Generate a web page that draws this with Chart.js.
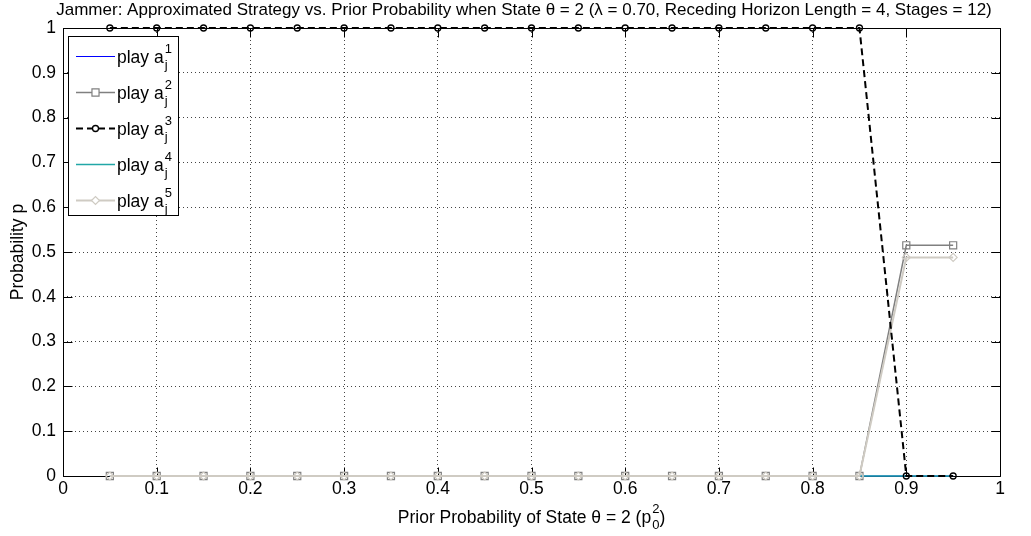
<!DOCTYPE html>
<html>
<head>
<meta charset="utf-8">
<title>Jammer strategy</title>
<script src="https://cdn.jsdelivr.net/npm/chart.js@4.4.1/dist/chart.umd.min.js"></script>
<style>
  html, body { margin: 0; padding: 0; background: #fff; }
  canvas { display: block; }
</style>
</head>
<body>
<canvas id="chart" width="1031" height="536"></canvas>
<script>
// prior probability of state theta = 2
const priorProb = [0.05, 0.1, 0.15, 0.2, 0.25, 0.3, 0.35, 0.4, 0.45, 0.5,
                   0.55, 0.6, 0.65, 0.7, 0.75, 0.8, 0.85, 0.9, 0.95];

// probability of playing each action
const playA1 = [0, 0, 0, 0, 0, 0, 0, 0, 0, 0, 0, 0, 0, 0, 0, 0, 0, 0, 0];
const playA2 = [0, 0, 0, 0, 0, 0, 0, 0, 0, 0, 0, 0, 0, 0, 0, 0, 0, 0.515, 0.515];
const playA3 = [1, 1, 1, 1, 1, 1, 1, 1, 1, 1, 1, 1, 1, 1, 1, 1, 1, 0, 0];
const playA4 = [0, 0, 0, 0, 0, 0, 0, 0, 0, 0, 0, 0, 0, 0, 0, 0, 0, 0, 0];
const playA5 = [0, 0, 0, 0, 0, 0, 0, 0, 0, 0, 0, 0, 0, 0, 0, 0, 0, 0.488, 0.488];

const xTicks = [0, 0.1, 0.2, 0.3, 0.4, 0.5, 0.6, 0.7, 0.8, 0.9, 1];
const yTicks = [0, 0.1, 0.2, 0.3, 0.4, 0.5, 0.6, 0.7, 0.8, 0.9, 1];

const FONT = '"Liberation Sans", Arial, sans-serif';
const FS = 17.5;

function pts(ys) {
    return ys.map((y, i) => ({ x: priorProb[i], y: y }));
}

// text like "play a" with a superscript and subscript stacked after it
function drawSupSub(ctx, x, y, base, sup, sub, size) {
    const small = Math.round(size * 0.74);
    ctx.font = size + 'px ' + FONT;
    const wBase = ctx.measureText(base).width;
    ctx.font = small + 'px ' + FONT;
    const wSmall = Math.max(ctx.measureText(sup).width, ctx.measureText(sub).width);
    ctx.textBaseline = 'middle';
    ctx.textAlign = 'left';
    ctx.font = size + 'px ' + FONT;
    ctx.fillText(base, x, y);
    ctx.font = small + 'px ' + FONT;
    ctx.fillText(sup, x + wBase + 1, y - size * 0.5);
    ctx.fillText(sub, x + wBase + 1, y + size * 0.45);
    return x + wBase + 1 + wSmall;
}

const matlabAxes = {
    id: 'matlabAxes',
    beforeDatasetsDraw(chart) {
        const ctx = chart.ctx;
        const a = chart.chartArea;
        const xs = chart.scales.x, ys = chart.scales.y;
        ctx.save();
        ctx.strokeStyle = '#000';
        ctx.lineWidth = 1;
        ctx.setLineDash([]);
        ctx.beginPath();
        const L = Math.round(a.left) + 0.5, R = Math.round(a.right) + 0.5;
        const T = Math.round(a.top) + 0.5, B = Math.round(a.bottom) + 0.5;
        ctx.rect(L, T, R - L, B - T);
        const tl = 9;
        xTicks.forEach(v => {
            const px = Math.round(xs.getPixelForValue(v)) + 0.5;
            ctx.moveTo(px, B); ctx.lineTo(px, B - tl);
            ctx.moveTo(px, T); ctx.lineTo(px, T + tl);
        });
        yTicks.forEach(v => {
            const py = Math.round(ys.getPixelForValue(v)) + 0.5;
            ctx.moveTo(L, py); ctx.lineTo(L + tl, py);
            ctx.moveTo(R, py); ctx.lineTo(R - tl, py);
        });
        ctx.stroke();
        ctx.restore();
    },
    afterDraw(chart) {
        const ctx = chart.ctx;
        const a = chart.chartArea;
        ctx.save();
        ctx.fillStyle = '#000';

        // title
        ctx.font = '17px ' + FONT;
        ctx.textAlign = 'center';
        ctx.textBaseline = 'middle';
        ctx.fillText('Jammer: Approximated Strategy vs. Prior Probability when State \u03b8 = 2 (\u03bb = 0.70, Receding Horizon Length = 4, Stages = 12)',
            524, 10);

        // x axis label
        const cx = (a.left + a.right) / 2;
        const head = 'Prior Probability of State \u03b8 = 2 (p';
        ctx.font = FS + 'px ' + FONT;
        const wHead = ctx.measureText(head).width;
        const wTail = ctx.measureText(')').width;
        ctx.font = Math.round(FS * 0.74) + 'px ' + FONT;
        const wSub = ctx.measureText('0').width;
        const total = wHead + 1 + wSub + wTail;
        const endX = drawSupSub(ctx, cx - total / 2, 518, head, '2', '0', FS);
        ctx.font = FS + 'px ' + FONT;
        ctx.fillText(')', endX, 518);

        // y axis label
        ctx.save();
        ctx.translate(18, (a.top + a.bottom) / 2);
        ctx.rotate(-Math.PI / 2);
        ctx.textAlign = 'center';
        ctx.textBaseline = 'middle';
        ctx.font = FS + 'px ' + FONT;
        ctx.fillText('Probability p', 0, 0);
        ctx.restore();

        // legend box
        const bx = 68.5, by = 36.5, bw = 110, bh = 179;
        ctx.fillStyle = '#fff';
        ctx.fillRect(bx, by, bw, bh);
        ctx.strokeStyle = '#000';
        ctx.lineWidth = 1;
        ctx.setLineDash([]);
        ctx.strokeRect(bx, by, bw, bh);
        chart.data.datasets.forEach((ds, i) => {
            const y = 56 + i * 36;
            const lx0 = 76, lx1 = 115, mx = (lx0 + lx1) / 2;
            ctx.save();
            ctx.strokeStyle = ds.borderColor;
            ctx.lineWidth = ds.borderWidth;
            ctx.setLineDash(ds.borderDash || []);
            ctx.beginPath();
            ctx.moveTo(lx0, y + 0.5);
            ctx.lineTo(lx1, y + 0.5);
            ctx.stroke();
            ctx.setLineDash([]);
            if (ds.pointRadius > 0) {
                ctx.fillStyle = '#fff';
                ctx.strokeStyle = ds.pointBorderColor || ds.borderColor;
                ctx.lineWidth = ds.pointBorderWidth || 1;
                Chart.helpers.drawPoint(ctx, {
                    pointStyle: ds.pointStyle,
                    radius: ds.pointRadius,
                    borderWidth: ds.pointBorderWidth || 1,
                    rotation: 0
                }, mx, y + 0.5);
            }
            ctx.restore();
            ctx.fillStyle = '#000';
            drawSupSub(ctx, 117, y + 2, 'play a', String(i + 1), 'j', FS);
        });
        ctx.restore();
    }
};

const dataSets = [
    {
        label: 'play a_j^1', data: pts(playA1),
        borderColor: '#0000ff', borderWidth: 1, pointRadius: 0, order: 5
    },
    {
        label: 'play a_j^2', data: pts(playA2),
        borderColor: '#808080', borderWidth: 1.5,
        pointStyle: 'rect', pointRadius: 5, pointBorderWidth: 1.2,
        pointBorderColor: '#808080', pointBackgroundColor: 'rgba(0,0,0,0)', order: 4
    },
    {
        label: 'play a_j^3', data: pts(playA3),
        borderColor: '#000000', borderWidth: 2, borderDash: [7, 4],
        pointStyle: 'circle', pointRadius: 3, pointBorderWidth: 1.3,
        pointBorderColor: '#000000', pointBackgroundColor: 'rgba(0,0,0,0)', order: 1
    },
    {
        label: 'play a_j^4', data: pts(playA4),
        borderColor: '#22a7a7', borderWidth: 1.5, pointRadius: 0, order: 3
    },
    {
        label: 'play a_j^5', data: pts(playA5),
        borderColor: '#cfcbc3', borderWidth: 2,
        pointStyle: 'rectRot', pointRadius: 4, pointBorderWidth: 1.2,
        pointBorderColor: '#cfcbc3', pointBackgroundColor: 'rgba(0,0,0,0)', order: 2
    }
];

const tickFmt = v => String(+v.toFixed(2));

new Chart(document.getElementById('chart').getContext('2d'), {
    type: 'line',
    data: {
        datasets: dataSets.map(ds => Object.assign({ fill: false, tension: 0, clip: false }, ds))
    },
    options: {
        responsive: false,
        animation: false,
        devicePixelRatio: 1,
        layout: { padding: { left: 0, right: 31, top: 28, bottom: 0 } },
        plugins: {
            legend: { display: false },
            title: { display: false },
            tooltip: { enabled: false }
        },
        scales: {
            x: {
                type: 'linear', min: 0, max: 1,
                afterBuildTicks: s => { s.ticks = xTicks.map(v => ({ value: v })); },
                afterFit: s => { s.height = 60; },
                ticks: { color: '#000', font: { family: FONT, size: FS }, padding: 3, maxRotation: 0, callback: tickFmt },
                grid: { color: '#444', lineWidth: 1, drawTicks: false },
                border: { display: false, dash: [1, 3] }
            },
            y: {
                type: 'linear', min: 0, max: 1,
                afterBuildTicks: s => { s.ticks = yTicks.map(v => ({ value: v })); },
                afterFit: s => { s.width = 63; },
                ticks: { color: '#000', font: { family: FONT, size: FS }, padding: 7, callback: tickFmt },
                grid: { color: '#444', lineWidth: 1, drawTicks: false },
                border: { display: false, dash: [1, 3] }
            }
        }
    },
    plugins: [matlabAxes]
});
</script>
</body>
</html>
